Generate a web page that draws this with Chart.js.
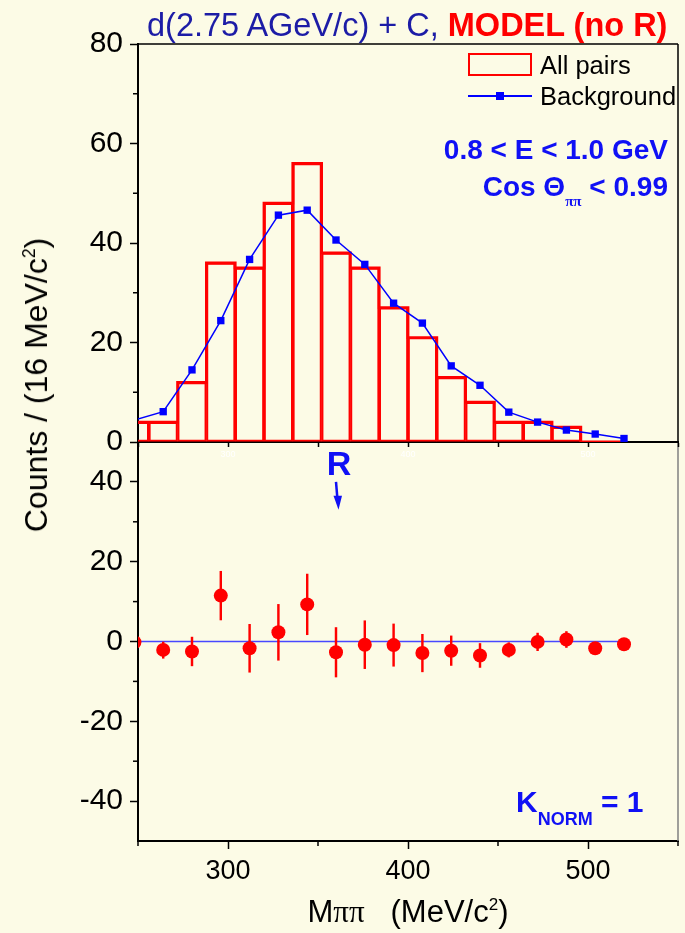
<!DOCTYPE html>
<html>
<head>
<meta charset="utf-8">
<script src="https://cdn.jsdelivr.net/npm/chart.js@4.4.1/dist/chart.umd.min.js"></script>
<style>
  html, body { margin: 0; padding: 0; background: #fcfbe6; }
  #page { position: relative; width: 685px; height: 933px; overflow: hidden;
          font-family: "Liberation Sans", Arial, sans-serif; }
  canvas { position: absolute; left: 0; top: 0; }
  .t { position: absolute; white-space: nowrap; line-height: 1; z-index: 5; }
  .b { font-weight: bold; color: #1010f5; }
  .sup { font-size: 0.55em; position: relative; top: -0.7em; }
  .pi { font-family: "Liberation Serif", "DejaVu Serif", serif; }
</style>
</head>
<body>
<div id="page">
  <canvas id="bottomChart" width="685" height="933"></canvas>
  <canvas id="topChart" width="685" height="480"></canvas>

  <div class="t" style="left:147px; top:9px; font-size:32.5px; color:#1c1ca6;">d(2.75 AGeV/c) + C, <span style="color:#ff0000; font-weight:bold;">MODEL (no R)</span></div>

  <div class="t" style="left:468px; top:53px; width:64px; height:23px; box-sizing:border-box; border:2.5px solid #ff0000;"></div>
  <div class="t" style="left:540px; top:53px; font-size:25.5px; color:#000;">All pairs</div>
  <div class="t" style="left:468px; top:95px; width:64px; height:2px; background:#0000ff;"></div>
  <div class="t" style="left:496px; top:92px; width:8px; height:8px; background:#0000ff;"></div>
  <div class="t" style="left:540px; top:84px; font-size:25.5px; color:#000;">Background</div>

  <div class="t b" style="right:17px; top:136px; font-size:28px;">0.8 &lt; E &lt; 1.0 GeV</div>
  <div class="t b" style="right:17px; top:173px; font-size:28px;">Cos &Theta;<span class="pi" style="font-size:15px; position:relative; top:10px;">&pi;&pi;</span> &lt; 0.99</div>

  <div class="t b" style="left:339px; top:446px; font-size:34px; transform:translateX(-50%);">R</div>

  <div class="t b" style="left:516px; top:787px; font-size:30px;">K<span style="font-size:18px; position:relative; top:13px;">NORM</span> = 1</div>

  <div class="t" style="left:36px; top:385px; font-size:32px; color:#000; transform:translate(-50%,-50%) rotate(-90deg);">Counts / (16 MeV/c<span class="sup">2</span>)</div>
  <div class="t" style="left:408px; top:896px; font-size:31px; color:#000; transform:translateX(-50%);">M<span class="pi">&pi;&pi;</span>&nbsp;&nbsp;&nbsp;(MeV/c<span class="sup">2</span>)</div>
</div>

<script>
// bin centres (MeV/c^2), 16 MeV bins
const binCenters = [248, 264, 280, 296, 312, 328, 344, 360, 376, 392, 408, 424, 440, 456, 472, 488, 504, 520];
const allPairs   = [4, 4, 12, 36, 35, 48, 56, 38, 35, 27, 21, 13, 8, 4, 4, 3, 0, 0];
const background = [4.4, 6.1, 14.5, 24.4, 36.7, 45.6, 46.6, 40.6, 35.7, 27.9, 23.9, 15.3, 11.4, 6.0, 4.0, 2.4, 1.6, 0.7];
// all pairs minus background
const difference = [-0.2, -2.1, -2.5, 11.5, -1.7, 2.3, 9.3, -2.7, -0.8, -0.9, -2.9, -2.3, -3.5, -2.1, -0.1, 0.5, -1.7, -0.7];
const diffErrors = [1.0, 2.1, 3.6, 6.1, 6.0, 7.0, 7.6, 6.2, 6.0, 5.3, 4.7, 3.7, 3.0, 1.8, 2.2, 2.0, 1.2, 1.0];

const xTicks = [250, 300, 350, 400, 450, 500, 550];
const xTickLabels = [300, 400, 500];
const xMinor = [250, 350, 450, 550];
const yTicksTop = [0, 20, 40, 60, 80];
const yMinorTop = [10, 30, 50, 70];
const yTicksBottom = [-40, -20, 0, 20, 40];
const yMinorBottom = [-30, -10, 10, 30];
const markerR = 360;

Chart.defaults.font.family = "'Liberation Sans', Arial, sans-serif";
Chart.defaults.color = "#000";

const minorTicks = {
    id: "minorTicks",
    afterDraw(chart, args, opts) {
        const ctx = chart.ctx;
        const a = chart.chartArea;
        ctx.save();
        ctx.strokeStyle = "#000";
        ctx.lineWidth = 1.5;
        (opts.y || []).forEach(v => {
            const py = chart.scales.y.getPixelForValue(v);
            ctx.beginPath(); ctx.moveTo(a.left - 5, py); ctx.lineTo(a.left, py); ctx.stroke();
        });
        (opts.x || []).forEach(v => {
            const px = chart.scales.x.getPixelForValue(v);
            ctx.beginPath(); ctx.moveTo(px, a.bottom); ctx.lineTo(px, a.bottom + 5); ctx.stroke();
        });
        ctx.restore();
    }
};

const frame = {
    id: "frame",
    afterDraw(chart, args, opts) {
        const ctx = chart.ctx;
        const a = chart.chartArea;
        ctx.save();
        ctx.lineWidth = 1.5;
        ctx.strokeStyle = opts.color || "#000";
        ctx.beginPath();
        if (opts.top) { ctx.moveTo(a.left, a.top); ctx.lineTo(a.right, a.top); }
        ctx.moveTo(a.right, a.top);
        ctx.lineTo(a.right, a.bottom);
        ctx.stroke();
        ctx.restore();
    }
};

const rArrow = {
    id: "rArrow",
    afterDatasetsDraw(chart, args, opts) {
        if (opts.value === undefined) return;
        const ctx = chart.ctx;
        const px = chart.scales.x.getPixelForValue(opts.value);
        const y0 = chart.scales.y.getPixelForValue(opts.from);
        const y1 = chart.scales.y.getPixelForValue(opts.to);
        ctx.save();
        ctx.strokeStyle = "#1010f5";
        ctx.fillStyle = "#1010f5";
        ctx.lineWidth = 2.5;
        ctx.beginPath();
        ctx.moveTo(px, y0);
        ctx.lineTo(px + 1.5, y1 - 10);
        ctx.stroke();
        ctx.beginPath();
        ctx.moveTo(px - 2.5, y1 - 14);
        ctx.lineTo(px + 6, y1 - 14);
        ctx.lineTo(px + 2.5, y1);
        ctx.closePath();
        ctx.fill();
        ctx.restore();
    }
};

function axisGrid(len) {
    return { display: true, drawOnChartArea: false, drawTicks: true, tickLength: len, tickColor: "#000", tickWidth: 1.5 };
}

const pts = vals => binCenters.map((x, i) => ({ x: x, y: vals[i] }));

new Chart(document.getElementById("topChart"), {
    type: "bar",
    data: {
        datasets: [
            {
                type: "line",
                label: "Background",
                data: pts(background),
                borderColor: "#0000ff",
                backgroundColor: "#0000ff",
                borderWidth: 1.5,
                pointStyle: "rect",
                pointRadius: 5.2,
                pointBorderWidth: 0,
                order: 0
            },
            {
                type: "line",
                label: "contour",
                data: pts(allPairs),
                stepped: "middle",
                borderColor: "#ff0000",
                borderWidth: 2.8,
                pointRadius: 0,
                fill: false,
                order: 1
            },
            {
                type: "bar",
                label: "All pairs",
                data: pts(allPairs),
                borderColor: "#ff0000",
                backgroundColor: "rgba(0,0,0,0)",
                borderWidth: 1.5,
                borderSkipped: false,
                barPercentage: 1,
                categoryPercentage: 1,
                order: 2
            }
        ]
    },
    options: {
        responsive: false,
        animation: false,
        layout: { padding: { left: 0, right: 7, top: 44, bottom: 0 } },
        plugins: {
            legend: { display: false },
            tooltip: { enabled: false },
            minorTicks: { y: yMinorTop },
            frame: { top: true, color: "#000" }
        },
        scales: {
            x: {
                type: "linear",
                min: 250,
                max: 550,
                offset: false,
                grid: Object.assign(axisGrid(5), { offset: false }),
                border: { display: true, color: "#000", width: 2 },
                afterBuildTicks: s => { s.ticks = xTicks.map(v => ({ value: v })); },
                afterFit: s => { s.height = 38; },
                ticks: {
                    color: "#ffffff",
                    font: { size: 9 },
                    padding: 2,
                    maxRotation: 0,
                    autoSkip: false,
                    callback: v => xTickLabels.includes(v) ? String(v) : ""
                }
            },
            y: {
                min: 0,
                max: 80,
                grid: axisGrid(8),
                border: { display: true, color: "#000", width: 2 },
                afterBuildTicks: s => { s.ticks = yTicksTop.map(v => ({ value: v })); },
                afterFit: s => { s.width = 138; },
                ticks: { font: { size: 30 }, padding: 7 }
            }
        }
    },
    plugins: [minorTicks, frame]
});

new Chart(document.getElementById("bottomChart"), {
    type: "bar",
    data: {
        datasets: [
            {
                type: "line",
                label: "points",
                data: pts(difference),
                showLine: false,
                pointRadius: 7,
                pointBorderWidth: 0,
                backgroundColor: "#ff0000",
                borderColor: "#ff0000",
                order: 0
            },
            {
                type: "bar",
                label: "errors",
                data: binCenters.map((x, i) => ({ x: x, y: [difference[i] - diffErrors[i], difference[i] + diffErrors[i]] })),
                backgroundColor: "#ff0000",
                borderWidth: 0,
                barThickness: 1.8,
                order: 1
            },
            {
                type: "line",
                label: "zero",
                data: [{ x: binCenters[0], y: 0 }, { x: binCenters[binCenters.length - 1], y: 0 }],
                borderColor: "#4848ff",
                borderWidth: 1.5,
                pointRadius: 0,
                order: 2
            }
        ]
    },
    options: {
        responsive: false,
        animation: false,
        layout: { padding: { left: 0, right: 7, top: 442, bottom: 42 } },
        plugins: {
            legend: { display: false },
            tooltip: { enabled: false },
            minorTicks: { y: yMinorBottom, x: xMinor },
            frame: { top: false, color: "#808080" },
            rArrow: { value: markerR, from: 40, to: 33 }
        },
        scales: {
            x: {
                type: "linear",
                min: 250,
                max: 550,
                offset: false,
                grid: Object.assign(axisGrid(8), { offset: false }),
                border: { display: true, color: "#000", width: 2 },
                afterBuildTicks: s => { s.ticks = xTickLabels.map(v => ({ value: v })); },
                afterFit: s => { s.height = 50; },
                ticks: { font: { size: 27 }, padding: 6, maxRotation: 0, autoSkip: false }
            },
            y: {
                min: -50,
                max: 50,
                grid: axisGrid(8),
                border: { display: true, color: "#000", width: 2 },
                afterBuildTicks: s => { s.ticks = yTicksBottom.map(v => ({ value: v })); },
                afterFit: s => { s.width = 138; },
                ticks: { font: { size: 30 }, padding: 7 }
            }
        }
    },
    plugins: [minorTicks, frame, rArrow]
});
</script>
</body>
</html>
